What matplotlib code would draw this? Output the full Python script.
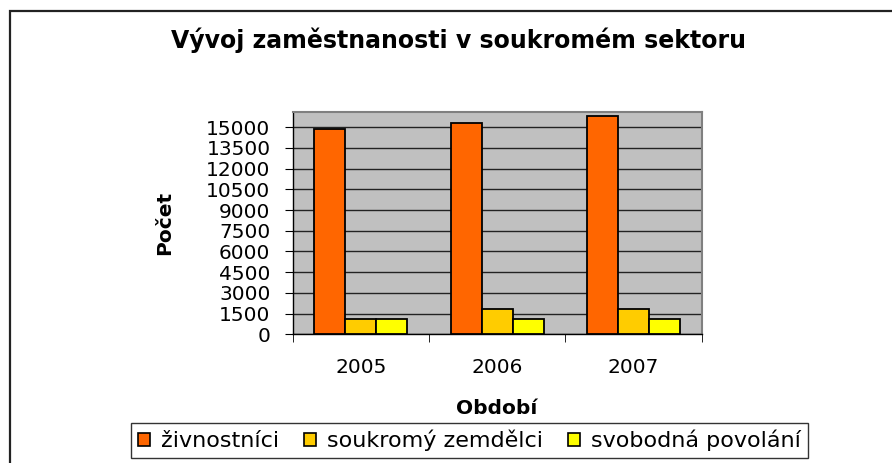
import numpy as np
import matplotlib
matplotlib.use('Agg')
import matplotlib.pyplot as plt
from matplotlib.patches import Rectangle, Patch

plt.rcParams['font.family'] = ['DejaVu Sans']

years = ['2005', '2006', '2007']
series_names = ['živnostníci', 'soukromý zemdělci', 'svobodná povolání']
zivnostnici = [14880, 15290, 15840]
zemedelci = [1130, 1830, 1830]
povolani = [1130, 1130, 1130]
colors = ['#FF6600', '#FFCC00', '#FFFF00']
yticks = [0, 1500, 3000, 4500, 6000, 7500, 9000, 10500, 12000, 13500, 15000]

W, H = 892, 463
fig = plt.figure(figsize=(W / 100, H / 100), dpi=100)
fig.patch.set_facecolor('white')

# outer chart frame (cut off at right and bottom like the reference)
fig.patches.append(Rectangle((10 / W, -0.2), 1.2, 1.2 - 11 / H,
                             transform=fig.transFigure, fill=False,
                             edgecolor='#222222', linewidth=1.6))

ax = fig.add_axes([292.7 / W, 1 - 334.3 / H, 409 / W, 222.3 / H])
ax.set_facecolor('#C0C0C0')

x = np.arange(len(years))
bw = 0.228
for i, (vals, c) in enumerate(zip([zivnostnici, zemedelci, povolani], colors)):
    ax.bar(x + (i - 1) * bw, vals, width=bw, color=c, edgecolor='black',
           linewidth=1.3, zorder=3)

ax.set_xlim(-0.5, 2.5)
ax.set_ylim(0, 16100)
ax.set_yticks(yticks)
ax.set_yticklabels([str(v) for v in yticks], fontsize=14.5)
ax.yaxis.grid(True, color='#222222', linewidth=1.0, zorder=1)
ax.set_axisbelow(True)

ax.set_xticks(x)
ax.set_xticklabels(years, fontsize=14.5)
ax.set_xticks([-0.5, 0.5, 1.5, 2.5], minor=True)
ax.tick_params(axis='x', which='major', length=0, pad=17)
ax.tick_params(axis='x', which='minor', length=6, direction='out', color='black')
ax.tick_params(axis='y', length=6, direction='out', color='black', pad=10)

for s in ['top', 'right']:
    ax.spines[s].set_color('#808080')
    ax.spines[s].set_linewidth(1.5)
for s in ['left', 'bottom']:
    ax.spines[s].set_color('black')
    ax.spines[s].set_linewidth(1.0)

fig.text(458 / W, 1 - 40 / H, 'Vývoj zaměstnanosti v soukromém sektoru',
         ha='center', va='center', fontsize=17, fontweight='bold')
fig.text(165 / W, 1 - 223 / H, 'Počet', ha='center', va='center',
         rotation=90, fontsize=14.5, fontweight='bold')
fig.text(497 / W, 1 - 408 / H, 'Období', ha='center', va='center',
         fontsize=14.5, fontweight='bold')

handles = [Patch(facecolor=c, edgecolor='black', linewidth=1.2) for c in colors]
leg = fig.legend(handles, series_names, loc='upper center', ncol=3,
                 bbox_to_anchor=(469.5 / W, 1 - 423 / H), fontsize=16,
                 frameon=True, fancybox=False, edgecolor='black',
                 handlelength=0.55, handleheight=0.55, handletextpad=0.5,
                 columnspacing=1.1, borderpad=0.3, borderaxespad=0)
leg.get_frame().set_linewidth(1.0)

fig.savefig('out.png', dpi=100)
